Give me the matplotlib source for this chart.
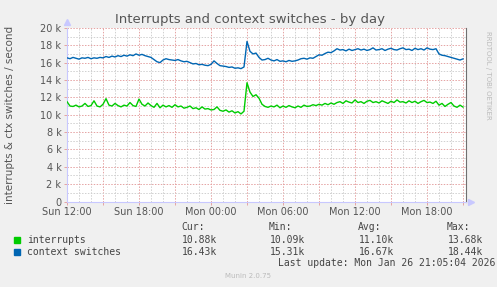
#!/usr/bin/env python3

import numpy as np
import matplotlib
matplotlib.use("Agg")
import matplotlib.pyplot as plt
from matplotlib.ticker import MultipleLocator, FuncFormatter

# samples every 15 minutes starting Sun 12:00, values in thousands per second
interrupts = [
    11.5, 11.0, 10.95, 11.1, 10.9, 11.0, 11.3, 10.95, 11.05, 11.6, 11.0, 10.9,
    11.2, 11.85, 11.1, 11.0, 11.3, 11.05, 10.9, 11.1, 11.0, 11.4, 11.05, 10.95,
    11.8, 11.2, 11.0, 11.35, 11.05, 10.85, 11.3, 10.8, 11.1,
    10.9, 11.05, 10.85, 11.15, 10.9, 11.0, 10.75, 10.85, 11.0, 10.7, 10.8, 10.6,
    10.9, 10.65, 10.7, 10.55, 10.6, 10.9, 10.5, 10.4, 10.55, 10.3, 10.45, 10.2,
    10.35, 10.09, 10.4,
    13.68,
    12.6, 12.1, 12.3, 11.9, 11.2, 10.95, 10.85,
    11.0, 10.9, 11.1, 10.8, 11.0, 10.85, 11.05, 10.9, 10.8, 11.0, 10.85, 11.1,
    10.95, 11.0, 11.15, 11.05,
    11.2, 11.1, 11.3, 11.15, 11.35, 11.2, 11.4,
    11.5, 11.3, 11.6, 11.45, 11.35, 11.7, 11.4, 11.5, 11.3, 11.55, 11.65, 11.4,
    11.5, 11.35, 11.6, 11.45, 11.3, 11.55, 11.4, 11.7, 11.45, 11.5, 11.35, 11.6,
    11.4, 11.55, 11.3, 11.5, 11.65, 11.4, 11.45, 11.3, 11.55,
    11.1, 11.3, 10.95, 11.2, 11.4, 11.0, 10.85, 11.1, 10.88,
]

context_switches = [
    16.55, 16.45, 16.6, 16.5, 16.4, 16.55, 16.5, 16.6, 16.45, 16.55, 16.5, 16.6,
    16.55, 16.7, 16.6, 16.75, 16.65, 16.8, 16.7, 16.85,
    16.75, 16.9, 16.8, 17.0, 16.85, 16.95, 16.8, 16.7,
    16.6, 16.35, 16.1, 16.0, 16.3,
    16.45, 16.35, 16.3, 16.25, 16.35, 16.2, 16.1, 16.15, 16.0,
    15.85, 15.9, 15.75, 15.8, 15.7, 15.65, 15.8,
    16.2, 15.9,
    15.65, 15.6, 15.55, 15.45, 15.5, 15.35, 15.4, 15.31, 15.5,
    18.44,
    17.3, 17.0, 17.1, 16.6, 16.3, 16.35, 16.5,
    16.3, 16.2, 16.35, 16.15, 16.2, 16.1, 16.25, 16.15, 16.2, 16.3,
    16.45, 16.5, 16.4, 16.55, 16.5, 16.7,
    16.9, 16.85, 17.05, 17.2, 17.15, 17.35, 17.6,
    17.45, 17.5, 17.35, 17.55, 17.4, 17.5, 17.6, 17.45, 17.55, 17.4, 17.5, 17.7,
    17.45, 17.5, 17.6, 17.4, 17.55, 17.65, 17.5, 17.45, 17.6, 17.7, 17.5, 17.55,
    17.4, 17.65, 17.5, 17.6, 17.45, 17.7, 17.55, 17.5, 17.6,
    17.0, 16.85, 16.8, 16.7, 16.6, 16.5, 16.4, 16.3, 16.43,
]

series_names = ["interrupts", "context switches"]
series_colors = ["#00CC00", "#0066B3"]
stat_cur = ["10.88k", "16.43k"]
stat_min = ["10.09k", "15.31k"]
stat_avg = ["11.10k", "16.67k"]
stat_max = ["13.68k", "18.44k"]

time_labels = {0: "Sun 12:00", 6: "Sun 18:00", 12: "Mon 00:00",
               18: "Mon 06:00", 24: "Mon 12:00", 30: "Mon 18:00"}

bg = "#F0F0F0"
txt = "#555555"


def main():
    W, H = 497, 287
    fig = plt.figure(figsize=(W / 100, H / 100), dpi=100, facecolor=bg)
    ax = fig.add_axes([67 / W, (H - 201.5) / H, 399 / W, 173.6 / H])
    ax.set_facecolor("white")

    for vals, col in zip([interrupts, context_switches], series_colors):
        hours = np.arange(len(vals)) * 0.25
        ax.plot(hours, vals, color=col, linewidth=1.0, zorder=3)

    ax.set_xlim(0, 33.25)
    ax.set_ylim(0, 20)

    ax.xaxis.set_major_locator(MultipleLocator(3))
    ax.xaxis.set_minor_locator(MultipleLocator(1))
    ax.xaxis.set_major_formatter(FuncFormatter(lambda v, p: time_labels.get(int(round(v)), "")))
    ax.yaxis.set_major_locator(MultipleLocator(2))
    ax.yaxis.set_minor_locator(MultipleLocator(1))
    ax.yaxis.set_major_formatter(FuncFormatter(lambda v, p: "0" if v == 0 else f"{int(v)} k"))

    ax.grid(True, which="major", color="#E5A3A3", linestyle=(0, (1.5, 1.5)), linewidth=0.7, zorder=1)
    ax.grid(True, which="minor", color="#D0D0D0", linestyle=(0, (1.5, 1.5)), linewidth=0.7, zorder=1)
    ax.set_axisbelow(True)

    ax.tick_params(which="major", length=2, width=0.7, color="#E5A3A3",
                   labelsize=7, labelcolor=txt, pad=2)
    ax.tick_params(which="minor", length=0)

    for s in ["top"]:
        ax.spines[s].set_visible(False)
    ax.spines["left"].set_color("#C8C8FF")
    ax.spines["bottom"].set_color("#C8C8FF")
    ax.spines["right"].set_color("#707070")
    for s in ax.spines.values():
        s.set_linewidth(0.8)

    # axis arrows
    ax.plot([0], [1.035], transform=ax.transAxes, marker="^", color="#C8C8FF",
            markersize=4, clip_on=False)
    ax.plot([1.012], [0], transform=ax.transAxes, marker=">", color="#C8C8FF",
            markersize=4, clip_on=False)

    fig.text(250 / W, 1 - 19 / H, "Interrupts and context switches - by day",
             ha="center", va="center", fontsize=9.5, color=txt)
    fig.text(10 / W, 1 - 115 / H, "interrupts & ctx switches / second",
             ha="center", va="center", rotation=90, fontsize=7.5, color=txt)
    fig.text(488 / W, 1 - 75 / H, "RRDTOOL / TOBI OETIKER", ha="center", va="center",
             rotation=270, fontsize=5, color="#BBBBBB")

    mono = "DejaVu Sans Mono"
    lc = "#444444"
    fig.text(181 / W, 1 - 227 / H, "Cur:", fontsize=7, family=mono, color=lc, va="center")
    fig.text(269 / W, 1 - 227 / H, "Min:", fontsize=7, family=mono, color=lc, va="center")
    fig.text(358 / W, 1 - 227 / H, "Avg:", fontsize=7, family=mono, color=lc, va="center")
    fig.text(447 / W, 1 - 227 / H, "Max:", fontsize=7, family=mono, color=lc, va="center")

    for i in range(len(series_names)):
        y = 1 - (240 + 12 * i) / H
        fig.patches.append(plt.Rectangle((14 / W, y - 3 / H), 6 / W, 6 / H,
                                         transform=fig.transFigure, color=series_colors[i]))
        fig.text(27 / W, y, series_names[i], fontsize=7, family=mono, color=lc, va="center")
        fig.text(217 / W, y, stat_cur[i], fontsize=7, family=mono, color=lc, va="center", ha="right")
        fig.text(305 / W, y, stat_min[i], fontsize=7, family=mono, color=lc, va="center", ha="right")
        fig.text(394 / W, y, stat_avg[i], fontsize=7, family=mono, color=lc, va="center", ha="right")
        fig.text(483 / W, y, stat_max[i], fontsize=7, family=mono, color=lc, va="center", ha="right")

    fig.text(495 / W, 1 - 263 / H, "Last update: Mon Jan 26 21:05:04 2026",
             fontsize=7, family=mono, color=lc, va="center", ha="right")
    fig.text(248 / W, 1 - 276 / H, "Munin 2.0.75", fontsize=5, color="#BBBBBB",
             ha="center", va="center")

    fig.savefig("out.png", dpi=100, facecolor=bg)


if __name__ == "__main__":
    main()
